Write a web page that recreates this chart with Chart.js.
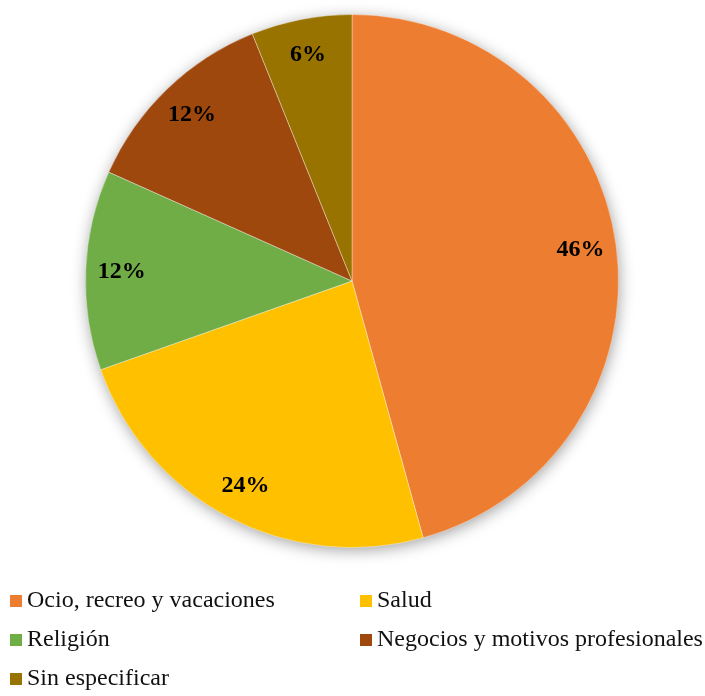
<!DOCTYPE html>
<html>
<head>
<meta charset="utf-8">
<script src="https://cdn.jsdelivr.net/npm/chart.js@4/dist/chart.umd.min.js"></script>
<style>
  html, body { margin: 0; padding: 0; background: #fff; }
  #wrap { position: relative; width: 705px; height: 696px; }
  #c { position: absolute; left: 0; top: 0; }
  .leg { position: absolute; font-family: "Liberation Serif", "Times New Roman", serif; font-size: 24px; color: #111; white-space: nowrap; line-height: 24px; }
  .leg span.box { display: inline-block; width: 12px; height: 12px; margin-right: 5px; vertical-align: 0px; }
</style>
</head>
<body>
<div id="wrap">
  <canvas id="c" width="705" height="696"></canvas>
</div>
<script>
const categories = ["Ocio, recreo y vacaciones", "Salud", "Religión", "Negocios y motivos profesionales", "Sin especificar"];
const values = [45.7, 23.9, 12.1, 12.2, 6.1];
const colors = ["#ED7D31", "#FFC000", "#70AD47", "#9E480E", "#997300"];

const shadowPlugin = {
  id: 'pieShadow',
  beforeDatasetsDraw(chart) {
    const arc = chart.getDatasetMeta(0).data[0];
    if (!arc) return;
    const ctx = chart.ctx;
    ctx.save();
    ctx.shadowColor = 'rgba(0,0,0,0.4)';
    ctx.shadowBlur = 16;
    ctx.shadowOffsetX = 1;
    ctx.shadowOffsetY = 3;
    ctx.fillStyle = '#fff';
    ctx.beginPath();
    ctx.arc(arc.x, arc.y, arc.outerRadius - 1, 0, Math.PI * 2);
    ctx.fill();
    ctx.restore();
  }
};

const labelPlugin = {
  id: 'pctLabels',
  afterDatasetsDraw(chart) {
    const ctx = chart.ctx;
    const meta = chart.getDatasetMeta(0);
    const total = values.reduce((a, b) => a + b, 0);
    ctx.save();
    ctx.font = 'bold 24px "Liberation Serif", "Times New Roman", serif';
    ctx.fillStyle = '#000';
    ctx.textAlign = 'center';
    ctx.textBaseline = 'middle';
    meta.data.forEach((arc, i) => {
      const p = arc.getProps(['x', 'y', 'startAngle', 'endAngle', 'outerRadius'], true);
      const mid = (p.startAngle + p.endAngle) / 2;
      const r = p.outerRadius * 0.865;
      const x = p.x + Math.cos(mid) * r;
      const y = p.y + Math.sin(mid) * r;
      ctx.fillText(Math.round(values[i] / total * 100) + '%', x, y);
    });
    ctx.restore();
  }
};

new Chart(document.getElementById('c'), {
  type: 'pie',
  data: {
    labels: categories,
    datasets: [{
      data: values,
      backgroundColor: colors,
      borderColor: 'rgba(255,255,255,0.35)',
      borderWidth: 1
    }]
  },
  options: {
    responsive: false,
    animation: false,
    layout: { padding: { left: 85, right: 86, top: 14, bottom: 148 } },
    plugins: {
      legend: { display: false },
      tooltip: { enabled: false }
    }
  },
  plugins: [shadowPlugin, labelPlugin]
});

// HTML legend built from the arrays (two columns)
const wrap = document.getElementById('wrap');
const colX = [10, 360];
const rowY = [587, 626, 665];
categories.forEach((name, i) => {
  const d = document.createElement('div');
  d.className = 'leg';
  d.style.left = colX[i % 2] + 'px';
  d.style.top = rowY[Math.floor(i / 2)] + 'px';
  const b = document.createElement('span');
  b.className = 'box';
  b.style.background = colors[i];
  d.appendChild(b);
  d.appendChild(document.createTextNode(name));
  wrap.appendChild(d);
});
</script>
</body>
</html>
